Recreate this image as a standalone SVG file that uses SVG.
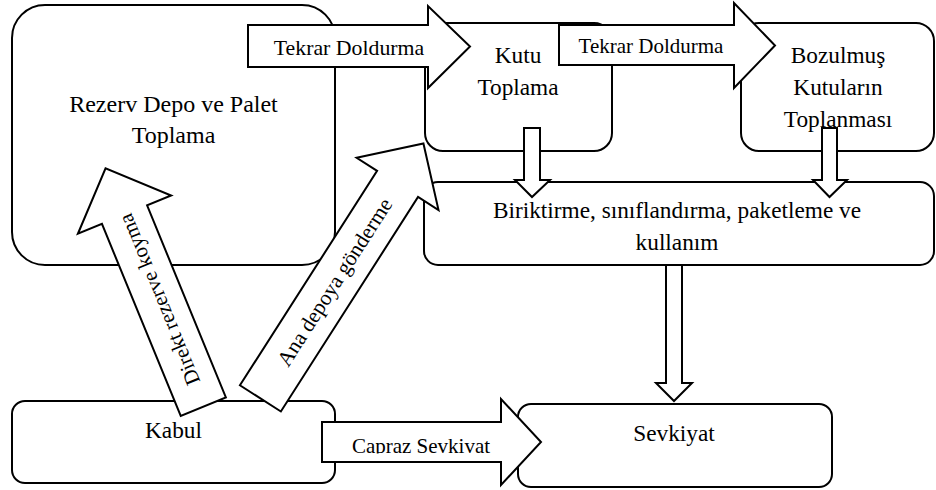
<svg xmlns="http://www.w3.org/2000/svg" width="936" height="490" viewBox="0 0 936 490">
  <style>
    .box { fill: #ffffff; stroke: #000000; stroke-width: 2; }
    .arrow { fill: #ffffff; stroke: #000000; stroke-width: 2; stroke-linejoin: miter; }
    text { font-family: 'Liberation Serif', 'DejaVu Serif', serif; fill: #000000; text-anchor: middle; }
    .label { font-size: 23.3px; }
    .alabel { font-size: 21px; }
  </style>
  <defs>
    <clipPath id="caprazClip">
      <rect x="322" y="422" width="180" height="31.5"/>
    </clipPath>
  </defs>
  <rect width="936" height="490" fill="#ffffff"/>

  <!-- process nodes -->
  <g id="rezerv">
    <rect class="box" x="12" y="5" width="323" height="260" rx="33" ry="33"/>
    <text class="label" x="173.5" y="112" style="font-size:24px">Rezerv Depo ve Palet</text>
    <text class="label" x="173.5" y="143" style="font-size:24px">Toplama</text>
  </g>
  <g id="kutu">
    <rect class="box" x="425" y="23" width="187" height="128" rx="18" ry="18"/>
    <text class="label" x="518" y="63">Kutu</text>
    <text class="label" x="518" y="95">Toplama</text>
  </g>
  <g id="bozulmus">
    <rect class="box" x="741" y="23" width="193" height="128" rx="18" ry="18"/>
    <text class="label" x="838" y="63">Bozulmuş</text>
    <text class="label" x="838" y="95">Kutuların</text>
    <text class="label" x="838" y="127">Toplanması</text>
  </g>
  <g id="biriktirme">
    <rect class="box" x="424" y="182" width="510" height="83" rx="14" ry="14"/>
    <text class="label" x="677" y="218">Biriktirme, sınıflandırma, paketleme ve</text>
    <text class="label" x="677" y="250">kullanım</text>
  </g>
  <g id="kabul">
    <rect class="box" x="12" y="401" width="323" height="82" rx="13" ry="13"/>
    <text class="label" x="173.5" y="438">Kabul</text>
  </g>
  <g id="sevkiyat">
    <rect class="box" x="518" y="404" width="314" height="83" rx="13" ry="13"/>
    <text class="label" x="674" y="441">Sevkiyat</text>
  </g>

  <!-- block arrows -->
  <g id="connectors">
    <g id="tekrar1">
      <polygon class="arrow" points="248,25 428,25 428,6 470,46.5 428,88 428,67 248,67"/>
      <text class="alabel" x="349" y="55" style="font-size:21.8px">Tekrar Doldurma</text>
    </g>
    <g id="tekrar2">
      <polygon class="arrow" points="559,25 734,25 734,3 775,45.5 734,88 734,65 559,65"/>
      <text class="alabel" x="651" y="53">Tekrar Doldurma</text>
    </g>
    <g id="kutu-down">
      <polygon class="arrow" points="524,128 540,128 540,180 550,180 532,197 515,180 524,180"/>
    </g>
    <g id="bozulmus-down">
      <polygon class="arrow" points="822,128 837,128 837,180 847,180 829.5,197 813,180 822,180"/>
    </g>
    <g id="biriktirme-down">
      <polygon class="arrow" points="666,265 682,265 682,383 692,383 674,401 656,383 666,383"/>
    </g>
    <g id="direkt" transform="translate(203.3,406.7) rotate(-112.3)">
      <polygon class="arrow" points="0,-24.4 207.6,-24.4 207.6,-50.4 257.6,0 207.6,50.4 207.6,24.4 0,24.4"/>
      <text class="alabel" x="116" y="7">Direkt rezerve koyma</text>
    </g>
    <g id="ana-depo" transform="translate(260.4,398.4) rotate(-57.4)">
      <polygon class="arrow" points="0,-24.3 254.6,-24.3 254.6,-48.6 302.6,0 254.6,48.6 254.6,24.3 0,24.3"/>
      <text class="alabel" x="138" y="7" style="font-size:21.5px">Ana depoya gönderme</text>
    </g>
    <g id="capraz">
      <polygon class="arrow" points="322,422 501,422 501,399 541,442 501,485 501,462 322,462"/>
      <text class="alabel" x="421" y="453" clip-path="url(#caprazClip)">Capraz Sevkivat</text>
    </g>
  </g>
</svg>
